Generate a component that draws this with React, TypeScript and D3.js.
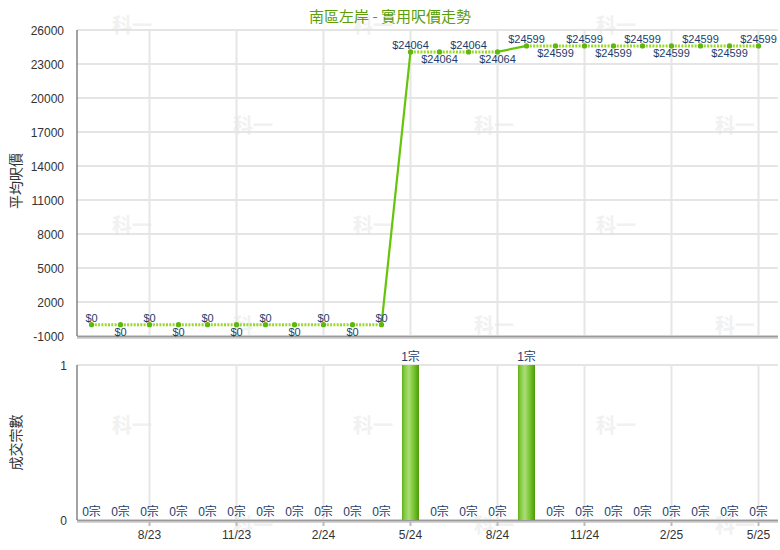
import React from "react";
import * as d3 from "d3";

// Monthly series
const months = [
  "6/23", "7/23", "8/23", "9/23", "10/23", "11/23", "12/23", "1/24",
  "2/24", "3/24", "4/24", "5/24", "6/24", "7/24", "8/24", "9/24",
  "10/24", "11/24", "12/24", "1/25", "2/25", "3/25", "4/25", "5/25",
];
const avgPrice = [
  0, 0, 0, 0, 0, 0, 0, 0, 0, 0, 0,
  24064, 24064, 24064, 24064,
  24599, 24599, 24599, 24599, 24599, 24599, 24599, 24599, 24599,
];
const dealCount = [
  0, 0, 0, 0, 0, 0, 0, 0, 0, 0, 0,
  1, 0, 0, 0,
  1, 0, 0, 0, 0, 0, 0, 0, 0,
];
const priceTicks = [-1000, 2000, 5000, 8000, 11000, 14000, 17000, 20000, 23000, 26000];
const dealTicks = [0, 1];
const xTickMonths = ["8/23", "11/23", "2/24", "5/24", "8/24", "11/24", "2/25", "5/25"];

const title = "南區左岸 - 實用呎價走勢";
const priceAxisTitle = "平均呎價";
const dealAxisTitle = "成交宗數";
const watermark = "科一";

const W = 780;
const H = 550;
const left = 77;
const bandRight = 773;
const gridRight = 778;
const top1 = 30;
const bottom1 = 336;
const top2 = 365;
const bottom2 = 520;

const latin = "'Liberation Sans', Arial, 'Noto Sans CJK TC', sans-serif";
const labelColor = "#1c3d6b";

export default function App() {
  const x = d3.scaleBand<string>().domain(months).range([left, bandRight]);
  const cx = (m: string) => (x(m) as number) + x.bandwidth() / 2;
  const yP = d3.scaleLinear().domain([-1000, 26000]).range([bottom1, top1]);
  const yD = d3.scaleLinear().domain([0, 1]).range([bottom2, top2]);

  const pts = months.map((m, i) => ({ m, i, x: cx(m), y: yP(avgPrice[i]) }));

  // label side alternates within each run of equal values, starting above
  const runPos: number[] = [];
  avgPrice.forEach((v, i) => {
    runPos.push(i > 0 && avgPrice[i - 1] === v ? runPos[i - 1] + 1 : 0);
  });

  const line = d3.line<{ x: number; y: number }>().x((d) => d.x).y((d) => d.y);

  // watermark grid
  const wmRows = [25, 125, 225, 325, 425, 525];
  const wm: { x: number; y: number }[] = [];
  wmRows.forEach((ry, r) => {
    const xs = r % 2 === 0 ? [132, 373, 616] : [253, 494, 735];
    xs.forEach((wx) => wm.push({ x: wx, y: ry }));
  });

  const barW = 17;

  return (
    <svg
      width={W}
      height={H}
      style={{ position: "absolute", left: 0, top: 0, background: "#fff" }}
      fontFamily={latin}
    >
      <defs>
        <linearGradient id="barFill" x1="0" x2="1" y1="0" y2="0">
          <stop offset="0" stopColor="#5eae16" />
          <stop offset="0.12" stopColor="#7ec63c" />
          <stop offset="0.4" stopColor="#abde76" />
          <stop offset="0.75" stopColor="#6fbe28" />
          <stop offset="1" stopColor="#4c9906" />
        </linearGradient>
      </defs>
      <rect width={W} height={H} fill="#fff" />

      {/* watermark */}
      {wm.map((p, i) => (
        <text
          key={"wm" + i}
          x={p.x}
          y={p.y + 8}
          textAnchor="middle"
          fontSize={20}
          fontWeight="bold"
          fill="#f1f1f1"
          fontFamily="'Noto Sans CJK TC', sans-serif"
        >
          {watermark}
        </text>
      ))}

      {/* title */}
      <text x={390} y={22} textAnchor="middle" fontSize={15} fill="#5a9e08"
        fontFamily="'Noto Sans CJK TC', sans-serif">
        {title}
      </text>

      {/* price panel grid */}
      {priceTicks.map((t) => (
        <line key={"hg" + t} x1={left} x2={gridRight} y1={yP(t)} y2={yP(t)}
          stroke="#dcdcdc" strokeWidth={1.5} />
      ))}
      {xTickMonths.map((m) => (
        <line key={"vg1" + m} x1={cx(m)} x2={cx(m)} y1={top1} y2={bottom1}
          stroke="#e6e6e6" strokeWidth={2} />
      ))}
      {/* deal panel grid */}
      {dealTicks.map((t) => (
        <line key={"hg2" + t} x1={left} x2={gridRight} y1={yD(t)} y2={yD(t)}
          stroke="#dcdcdc" strokeWidth={1.5} />
      ))}
      {xTickMonths.map((m) => (
        <line key={"vg2" + m} x1={cx(m)} x2={cx(m)} y1={top2} y2={bottom2}
          stroke="#e6e6e6" strokeWidth={2} />
      ))}

      {/* axis frames */}
      <line x1={left} x2={gridRight} y1={bottom1 + 2} y2={bottom1 + 2} stroke="#d4d4d4" strokeWidth={2} />
      <line x1={left} x2={gridRight} y1={bottom1 + 0.5} y2={bottom1 + 0.5} stroke="#999" strokeWidth={1.5} />
      <line x1={left} x2={left} y1={top1} y2={bottom1} stroke="#666" strokeWidth={1.2} />
      <line x1={left} x2={gridRight} y1={bottom2 + 2} y2={bottom2 + 2} stroke="#d4d4d4" strokeWidth={2} />
      <line x1={left} x2={gridRight} y1={bottom2 + 0.5} y2={bottom2 + 0.5} stroke="#999" strokeWidth={1.5} />
      <line x1={left} x2={left} y1={top2} y2={bottom2} stroke="#666" strokeWidth={1.2} />
      {xTickMonths.map((m) => (
        <line key={"tk" + m} x1={cx(m)} x2={cx(m)} y1={bottom2 + 2} y2={bottom2 + 6}
          stroke="#bbb" strokeWidth={2} />
      ))}

      {/* y tick labels */}
      {priceTicks.map((t) => (
        <text key={"pt" + t} x={64} y={yP(t) + 4.5} textAnchor="end" fontSize={12} fill="#333">
          {t}
        </text>
      ))}
      {dealTicks.map((t) => (
        <text key={"dt" + t} x={67} y={yD(t) + 4.5} textAnchor="end" fontSize={12} fill="#333">
          {t}
        </text>
      ))}
      {/* x tick labels */}
      {xTickMonths.map((m) => (
        <text key={"xt" + m} x={cx(m)} y={539} textAnchor="middle" fontSize={12} fill="#333">
          {m}
        </text>
      ))}

      {/* axis titles */}
      <text transform="translate(21,181) rotate(-90)" textAnchor="middle"
        fontSize={14} fill="#333" fontFamily="'Noto Sans CJK TC', sans-serif">
        {priceAxisTitle}
      </text>
      <text transform={`translate(21,${(top2 + bottom2) / 2}) rotate(-90)`} textAnchor="middle"
        fontSize={14} fill="#333" fontFamily="'Noto Sans CJK TC', sans-serif">
        {dealAxisTitle}
      </text>

      {/* price line: solid into months with deals, dotted otherwise */}
      {pts.slice(1).map((p, k) => {
        const prev = pts[k];
        const solid = dealCount[p.i] > 0;
        return solid ? (
          <path key={"seg" + p.i} d={line([prev, p]) as string} stroke="#66c40a" strokeWidth={2.2} fill="none" />
        ) : (
          <path key={"seg" + p.i} d={line([prev, p]) as string} stroke="#9ad92a" strokeWidth={3}
            strokeDasharray="2 1.3" fill="none" />
        );
      })}
      {pts.map((p) => (
        <circle key={"pt" + p.i} cx={p.x} cy={p.y} r={2.6} fill="#5cb80a" />
      ))}
      {pts.map((p) => {
        const above = runPos[p.i] % 2 === 0;
        return (
          <text key={"pl" + p.i} x={p.x} y={above ? p.y - 2.5 : p.y + 11} textAnchor="middle"
            fontSize={11} fill={labelColor}>
            {"$" + avgPrice[p.i]}
          </text>
        );
      })}

      {/* deal bars */}
      {months.map((m, i) =>
        dealCount[i] > 0 ? (
          <rect key={"bar" + m} x={cx(m) - barW / 2} y={yD(dealCount[i])} width={barW}
            height={yD(0) - yD(dealCount[i])} fill="url(#barFill)" />
        ) : null
      )}
      {months.map((m, i) => (
        <text key={"bl" + m} x={cx(m)} y={dealCount[i] > 0 ? yD(dealCount[i]) - 4 : yD(0) - 4}
          textAnchor="middle" fontSize={12} fill={labelColor}>
          {dealCount[i] + "宗"}
        </text>
      ))}
    </svg>
  );
}
